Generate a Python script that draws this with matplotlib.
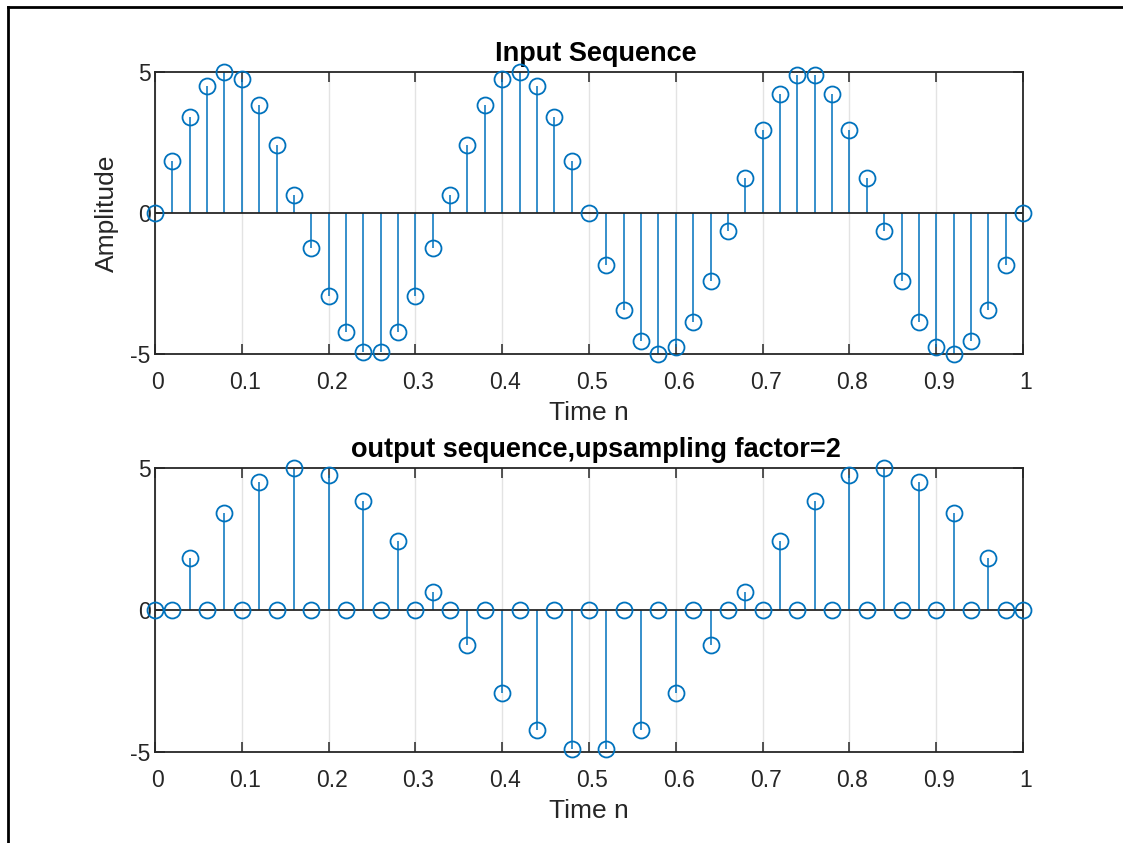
import numpy as np
import matplotlib.pyplot as plt
from matplotlib.lines import Line2D
from matplotlib.transforms import ScaledTranslation

plt.rcParams['font.family'] = ['Liberation Sans', 'DejaVu Sans']

# 采样时间 (0 到 1, 步长 0.02)
time_n = np.linspace(0, 1, 51)

# 输入序列
input_seq = [0, 1.84, 3.42, 4.52, 4.99, 4.76, 3.85, 2.41, 0.63, -1.24,
             -2.94, -4.22, -4.91, -4.91, -4.22, -2.94, -1.24, 0.63, 2.41, 3.85,
             4.76, 4.99, 4.52, 3.42, 1.84, 0, -1.84, -3.42, -4.52, -4.99,
             -4.76, -3.85, -2.41, -0.63, 1.24, 2.94, 4.22, 4.91, 4.91, 4.22,
             2.94, 1.24, -0.63, -2.41, -3.85, -4.76, -4.99, -4.52, -3.42, -1.84,
             0]

# 上采样输出 (因子 2)
output_seq = [0, 0, 1.84, 0, 3.42, 0, 4.52, 0, 4.99, 0,
              4.76, 0, 3.85, 0, 2.41, 0, 0.63, 0, -1.24, 0,
              -2.94, 0, -4.22, 0, -4.91, 0, -4.91, 0, -4.22, 0,
              -2.94, 0, -1.24, 0, 0.63, 0, 2.41, 0, 3.85, 0,
              4.76, 0, 4.99, 0, 4.52, 0, 3.42, 0, 1.84, 0,
              0]

x_ticks = [0, 0.1, 0.2, 0.3, 0.4, 0.5, 0.6, 0.7, 0.8, 0.9, 1]
x_tick_labels = ['0', '0.1', '0.2', '0.3', '0.4', '0.5', '0.6', '0.7', '0.8', '0.9', '1']
y_ticks = [-5, 0, 5]
y_tick_labels = ['-5', '0', '5']

blue = '#0072BD'
dark = '#262626'

fig = plt.figure(figsize=(11.23, 8.43), dpi=100)
ax1 = fig.add_axes([0.138, 0.580, 0.773, 0.3345])
ax2 = fig.add_axes([0.138, 0.108, 0.773, 0.337])


def draw_stem(ax, t, y, title, ylabel=None):
    markerline, stemlines, baseline = ax.stem(t, y, linefmt='-', markerfmt='o', basefmt='-')
    stemlines.set_color(blue)
    stemlines.set_linewidth(1.1)
    markerline.set_color(blue)
    markerline.set_markerfacecolor('none')
    markerline.set_markersize(11.5)
    markerline.set_markeredgewidth(1.3)
    markerline.set_clip_on(False)
    markerline.set_zorder(4)
    baseline.set_color(dark)
    baseline.set_linewidth(1.3)

    ax.set_xlim(0, 1)
    ax.set_ylim(-5, 5)
    ax.set_xticks(x_ticks)
    ax.set_xticklabels(x_tick_labels)
    ax.set_yticks(y_ticks)
    ax.set_yticklabels(y_tick_labels)
    ax.tick_params(direction='in', top=True, right=True, length=7, width=1.1,
                   labelsize=16.5, colors=dark)
    ax.tick_params(axis='x', pad=12)
    ax.tick_params(axis='y', pad=3)
    # 刻度标签略微右移
    shift = ScaledTranslation(3 / 100, 0, fig.dpi_scale_trans)
    for lab in ax.get_xticklabels():
        lab.set_transform(lab.get_transform() + shift)
    ax.grid(axis='x', color='#e3e3e3', linewidth=1.0)
    ax.set_axisbelow(True)
    for s in ax.spines.values():
        s.set_linewidth(1.3)
        s.set_color(dark)
    ax.set_title(title, fontsize=19.5, fontweight='bold', pad=8, x=0.508)
    ax.set_xlabel('Time n', fontsize=19, color=dark, labelpad=5)
    if ylabel:
        ax.set_ylabel(ylabel, fontsize=19, color=dark, labelpad=8.5)


draw_stem(ax1, time_n, input_seq, 'Input Sequence', 'Amplitude')
draw_stem(ax2, time_n, output_seq, 'output sequence,upsampling factor=2')

# 窗口边框 (上, 左)
W, H = 1123, 843
fig.add_artist(Line2D([8 / W, 1], [1 - 7 / H, 1 - 7 / H], transform=fig.transFigure,
                      color='black', linewidth=2))
fig.add_artist(Line2D([8 / W, 8 / W], [0, 1 - 7 / H], transform=fig.transFigure,
                      color='black', linewidth=2))

fig.savefig('out.png', dpi=100)
